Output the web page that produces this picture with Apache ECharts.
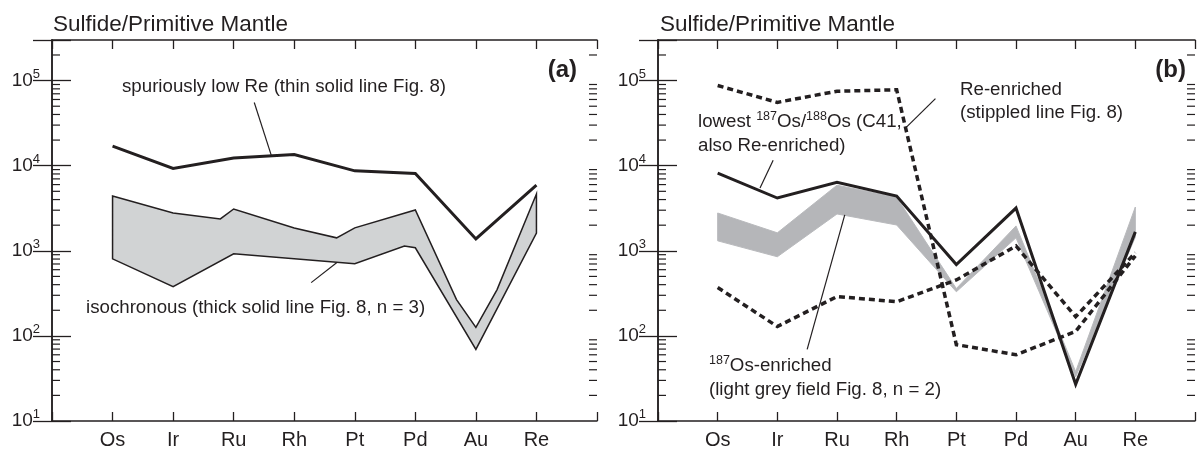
<!DOCTYPE html>
<html>
<head>
<meta charset="utf-8">
<title>Sulfide/Primitive Mantle</title>
<script src="https://cdn.jsdelivr.net/npm/echarts@6/dist/echarts.min.js"></script>
<style>
  html, body { margin: 0; padding: 0; background: #fff; }
  #chart { width: 1198px; height: 450px; }
</style>
</head>
<body>
<div id="chart"></div>
<script>
// elements sit at x = 1..8, the frame runs from 0 to 9
var elements = ['Os', 'Ir', 'Ru', 'Rh', 'Pt', 'Pd', 'Au', 'Re'];
var decades = [1, 2, 3, 4, 5];
var minorTickValues = [20, 30, 40, 50, 60, 70, 80, 90,
  200, 300, 400, 500, 600, 700, 800, 900,
  2000, 3000, 4000, 5000, 6000, 7000, 8000, 9000,
  20000, 30000, 40000, 50000, 60000, 70000, 80000, 90000,
  200000];

// panel (a)
var spuriousLowRe = [17000, 9300, 12300, 13500, 8700, 8100, 1380, 5900];
var isoUpperX = [1, 2, 2.78, 3, 4, 4.7, 5, 6, 6.68, 7, 7.35, 8];
var isoUpper = [4400, 2780, 2370, 3100, 1850, 1420, 1860, 3020, 267, 126, 350, 4640];
var isoLowerX = [1, 2, 3, 5, 5.82, 6, 7, 8];
var isoLower = [805, 379, 923, 705, 1140, 1085, 69.5, 1620];

// panel (b)
var lowestOs = [8200, 4170, 6400, 4400, 690, 3180, 27, 1670];
var reEnrichedHigh = [87500, 55500, 75000, 78000, 79, 60, 113, 870];
var reEnrichedLow = [370, 129, 290, 252, 455, 1140, 168, 950];
var osEnrichedUpper = [2780, 1625, 5900, 4250, 360, 1960, 38, 3270];
var osEnrichedLower = [1310, 851, 2710, 2010, 330, 1420, 33, 1450];

var ink = '#231f20';
var font = '"Liberation Sans", Arial, sans-serif';

function seq(values) {
  return values.map(function (v, i) { return [i + 1, v]; });
}
function polygon(upX, up, loX, lo) {
  var pts = upX.map(function (x, i) { return [x, up[i]]; });
  for (var i = loX.length - 1; i >= 0; i--) pts.push([loX[i], lo[i]]);
  return pts;
}

function xAxes(gi) {
  var base = {
    type: 'value', gridIndex: gi, min: 0, max: 9, interval: 1,
    axisLine: { show: true, lineStyle: { color: ink, width: 1.5 } },
    axisTick: { show: true, inside: true, length: 9, lineStyle: { color: ink, width: 1.3 } },
    splitLine: { show: false }
  };
  return [
    Object.assign({}, base, {
      position: 'bottom',
      axisLabel: {
        color: ink, fontSize: 20, fontFamily: font, margin: 9,
        formatter: function (v) { return elements[v - 1] || ''; }
      }
    }),
    Object.assign({}, base, { position: 'top', axisLabel: { show: false } })
  ];
}

function yAxes(gi) {
  var base = {
    type: 'log', logBase: 10, gridIndex: gi, min: 10, max: 300000,
    axisLine: { show: true, lineStyle: { color: ink, width: 1.5 } },
    axisTick: { show: true, inside: true, length: 19, lineStyle: { color: ink, width: 1.3 } },
    splitLine: { show: false }, minorTick: { show: false }
  };
  return [
    Object.assign({}, base, {
      position: 'left',
      axisLabel: {
        color: ink, fontFamily: font, margin: 12,
        formatter: function (v) {
          var e = Math.round(Math.log10(v));
          if (decades.indexOf(e) < 0 || Math.abs(v - Math.pow(10, e)) > 1e-6 * v) return '';
          return '{b|10}{s|' + e + '}';
        },
        rich: {
          b: { fontSize: 19, lineHeight: 26, fontFamily: font, color: ink },
          s: { fontSize: 13, lineHeight: 14, fontFamily: font, color: ink, verticalAlign: 'top' }
        }
      }
    }),
    Object.assign({}, base, { position: 'right', axisLabel: { show: false } })
  ];
}

function minorTicks(gi) {
  return {
    type: 'custom', xAxisIndex: gi * 2, yAxisIndex: gi * 2, silent: true, z: 1,
    data: minorTickValues.map(function (v) { return [0, v]; }),
    renderItem: function (params, api) {
      var y = api.coord([0, api.value(1)])[1];
      var cs = params.coordSys;
      var st = { stroke: ink, lineWidth: 1.2 };
      return {
        type: 'group', children: [
          { type: 'line', shape: { x1: cs.x, y1: y, x2: cs.x + 8, y2: y }, style: st },
          { type: 'line', shape: { x1: cs.x + cs.width - 8, y1: y, x2: cs.x + cs.width, y2: y }, style: st }
        ]
      };
    }
  };
}

function field(gi, pts, style) {
  return {
    type: 'custom', xAxisIndex: gi * 2, yAxisIndex: gi * 2, silent: true, z: 2,
    data: pts,
    renderItem: function (params, api) {
      if (params.dataIndex !== 0) return null;
      var points = pts.map(function (p) { return api.coord(p); });
      return { type: 'polygon', shape: { points: points }, style: style };
    }
  };
}

function line(gi, values, dashed, markLines) {
  var s = {
    type: 'line', xAxisIndex: gi * 2, yAxisIndex: gi * 2, z: 3,
    data: seq(values), symbol: 'none', silent: true,
    lineStyle: {
      color: ink, width: dashed ? 3.5 : 3, type: dashed ? [6, 4] : 'solid',
      join: 'miter', miterLimit: 10, cap: 'butt'
    }
  };
  if (markLines) {
    s.markLine = {
      silent: true, symbol: 'none', animation: false, label: { show: false },
      lineStyle: { color: ink, width: 1.2, type: 'solid' },
      data: markLines.map(function (m) { return [{ coord: m[0] }, { coord: m[1] }]; })
    };
  }
  return s;
}

// leader lines from the notes to the curves, in data coordinates
var leadersA = [[[3.34, 55300], [3.62, 13300]], [[4.28, 423], [4.70, 724]]];
var leadersB = [[[4.65, 61500], [4.16, 28200]], [[1.93, 11600], [1.71, 5460]], [[2.50, 69.5], [3.13, 2640]]];

function txt(x, y, text, size, extra) {
  return {
    type: 'text', x: x, y: y, silent: true,
    style: Object.assign({
      text: text, fontSize: size, fontFamily: font, fill: ink,
      align: 'left', verticalAlign: 'middle', lineHeight: 24,
      rich: { s: { fontSize: 12.5, lineHeight: 12, fontFamily: font, fill: ink, verticalAlign: 'top' } }
    }, extra || {})
  };
}

var chart = echarts.init(document.getElementById('chart'));
var option = {
  animation: false,
  backgroundColor: '#fff',
  grid: [
    { left: 52, top: 40, width: 545, height: 382 },
    { left: 658, top: 40, width: 546, height: 382 }
  ],
  xAxis: xAxes(0).concat(xAxes(1)),
  yAxis: yAxes(0).concat(yAxes(1)),
  series: [
    minorTicks(0),
    minorTicks(1),
    field(0, polygon(isoUpperX, isoUpper, isoLowerX, isoLower),
      { fill: '#d1d3d4', stroke: ink, lineWidth: 1.5, lineJoin: 'miter' }),
    line(0, spuriousLowRe, false, leadersA),
    field(1, polygon([1, 2, 3, 4, 5, 6, 7, 8], osEnrichedUpper, [1, 2, 3, 4, 5, 6, 7, 8], osEnrichedLower),
      { fill: '#b5b6b9', stroke: '#b9babd', lineWidth: 1 }),
    line(1, reEnrichedHigh, true),
    line(1, reEnrichedLow, true),
    line(1, lowestOs, false, leadersB)
  ],
  graphic: [
    txt(53, 25, 'Sulfide/Primitive Mantle', 22.5),
    txt(660, 25, 'Sulfide/Primitive Mantle', 22.5),
    txt(577, 70, '(a)', 24, { fontWeight: 'bold', align: 'right' }),
    txt(1186, 70, '(b)', 24, { fontWeight: 'bold', align: 'right' }),
    txt(122, 87, 'spuriously low Re (thin solid line Fig. 8)', 18.7),
    txt(86, 308, 'isochronous (thick solid line Fig. 8, n = 3)', 18.7),
    txt(960, 90, 'Re-enriched', 18.7),
    txt(960, 113, '(stippled line Fig. 8)', 18.7),
    txt(698, 122, 'lowest {s|187}Os/{s|188}Os (C41,', 18.7),
    txt(698, 146, 'also Re-enriched)', 18.7),
    txt(709, 366, '{s|187}Os-enriched', 18.7),
    txt(709, 390, '(light grey field Fig. 8, n = 2)', 18.7)
  ]
};
chart.setOption(option);
</script>
</body>
</html>
